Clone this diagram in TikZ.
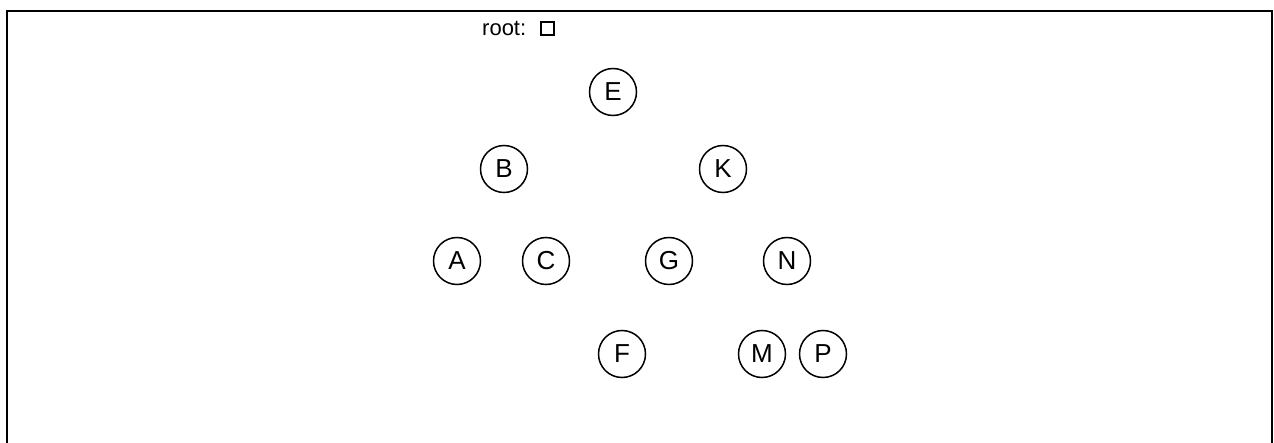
\documentclass[tikz,border=0pt]{standalone}
\usepackage{fontspec}
\setmainfont{Liberation Sans}
\usetikzlibrary{positioning}
\begin{document}
\begin{tikzpicture}[x=1pt,y=-1pt,every node/.style={inner sep=0pt,font=\fontsize{22}{26}\selectfont},
  key/.style={circle,draw,line width=1.5pt,minimum size=47pt,font=\fontsize{26}{30}\selectfont}]
\useasboundingbox (0,0) rectangle (1274,443);
\draw[line width=2.5pt] (7,443)--(7,11)--(1272,11)--(1272,443);
\node[anchor=base west] (rootlbl) at (482,36) {root:};
\node[draw,line width=2pt,minimum size=13pt] (rootbox) at (547,28.5) {};
\foreach \n/\x/\y in {E/613/92,B/504/169,K/723/169,A/457/261,C/546/261,G/669/261,N/787/261,F/622/354,M/762/354,P/823/354}{\node[key] (\n) at (\x,\y) {\n};}
\end{tikzpicture}
\end{document}
